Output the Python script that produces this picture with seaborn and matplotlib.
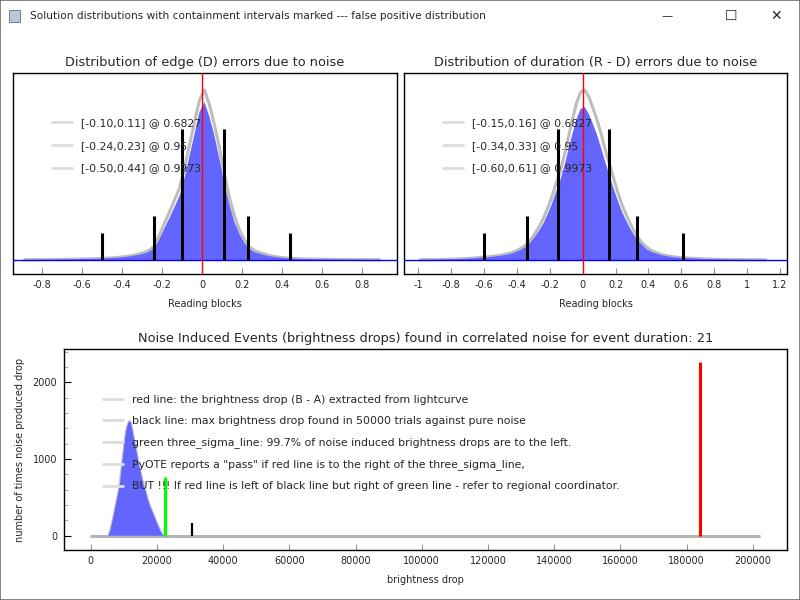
import numpy as np
import pandas as pd
import matplotlib
matplotlib.use("Agg")
import matplotlib.pyplot as plt
from matplotlib.lines import Line2D
from matplotlib.patches import Rectangle
from matplotlib.ticker import MultipleLocator, FuncFormatter
import seaborn as sns

# ---- edge (D) error histogram: bins 0.025 wide starting at -0.9
edge_start = -0.9
edge_gray = [0.3, 0.3, 0.4, 0.4, 0.5, 0.5, 0.6, 0.6, 0.7, 0.8, 0.9, 1.0,
             1.1, 1.2, 1.3, 1.5, 1.7, 2.0, 2.4, 2.8, 3.4, 4.0, 5.0, 6.0,
             7.5, 10, 14, 25, 37, 48, 60, 72, 92, 115, 138, 160,
             170, 155, 135, 112, 85, 62, 44, 30, 20, 13, 9.5, 7.5,
             6, 4.5, 3.5, 2.8, 2.2, 1.8, 1.5, 1.3, 1.1, 1.0, 0.9, 0.9,
             0.8, 0.8, 0.7, 0.6, 0.6, 0.5, 0.5, 0.4, 0.4, 0.3, 0.3, 0.3]
edge_blue = [0.2, 0.2, 0.3, 0.3, 0.4, 0.4, 0.5, 0.5, 0.6, 0.7, 0.8, 0.9,
             1.0, 1.1, 1.2, 1.3, 1.5, 1.8, 2.1, 2.5, 3.0, 3.6, 4.4, 5.3,
             6.6, 8.5, 12, 21, 32, 42, 53, 64, 82, 104, 126, 148,
             158, 143, 124, 101, 76, 55, 38, 26, 17, 11, 8, 6.3,
             5, 3.8, 3.0, 2.4, 1.9, 1.5, 1.3, 1.1, 1.0, 0.9, 0.8, 0.8,
             0.7, 0.7, 0.6, 0.5, 0.5, 0.4, 0.4, 0.3, 0.3, 0.2, 0.2, 0.2]
edge_lo = [-0.10, -0.24, -0.50]
edge_hi = [0.11, 0.23, 0.44]

# ---- duration (R - D) error histogram: bins 0.025 wide starting at -1.0
dur_start = -1.0
dur_gray = [0.3, 0.3, 0.4, 0.4, 0.5, 0.6, 0.7, 0.8, 0.9, 1.0, 1.2, 1.4, 1.7, 2.0, 2.3, 2.7,
            3.0, 3.4, 3.9, 4.5, 5.2, 6.0, 7.0, 8.5, 10.5, 13, 16, 21,
            27, 34, 42, 52, 63, 76, 88, 104, 122, 140, 157, 168,
            170, 163, 152, 140, 126, 110, 96, 82, 68, 56, 46, 37,
            29, 22, 17, 13, 10, 8, 6.5, 5.2, 4.3, 3.6, 3.0, 2.6,
            2.3, 2.0, 1.8, 1.6, 1.4, 1.2, 1.0, 0.9, 0.8, 0.7, 0.6, 0.5,
            0.5, 0.4, 0.4, 0.3, 0.3, 0.3, 0.2, 0.2, 0.2]
dur_blue = [0.2, 0.2, 0.3, 0.3, 0.4, 0.5, 0.6, 0.7, 0.8, 0.9, 1.0, 1.2, 1.5, 1.8, 2.0, 2.4,
            2.6, 3.0, 3.4, 3.9, 4.6, 5.3, 6.2, 7.5, 9.3, 11.5, 14, 18.5,
            24, 30, 37, 46, 56, 68, 79, 93, 110, 126, 141, 151,
            153, 146, 136, 125, 112, 98, 85, 72, 60, 49, 40, 32,
            25, 19, 15, 11, 8.5, 7, 5.7, 4.6, 3.8, 3.2, 2.6, 2.3,
            2.0, 1.8, 1.6, 1.4, 1.2, 1.0, 0.9, 0.8, 0.7, 0.6, 0.5, 0.4,
            0.4, 0.3, 0.3, 0.2, 0.2, 0.2, 0.2, 0.1, 0.1]
dur_lo = [-0.15, -0.34, -0.60]
dur_hi = [0.16, 0.33, 0.61]

bin_width = 0.025
confidence = ["0.6827", "0.95", "0.9973"]
interval_heights = [131, 44, 27]

# ---- noise induced brightness drops: bins 500 wide starting at 5000
drop_start = 5000
drop_width = 500
drop_counts = [10, 70, 160, 260, 370, 470, 580, 720, 920, 1100, 1290, 1410,
               1480, 1505, 1480, 1380, 1260, 1160, 1040, 920, 830, 730, 650, 580,
               500, 430, 370, 320, 270, 210, 160, 110, 60, 25, 5]
drop_span = [0, 202000]
red_drop, red_height = 184000, 2270
black_drop, black_height = 30600, 162
green_drop, green_height = 22450, 770
drop_legend = [
    "red line: the brightness drop (B - A) extracted from lightcurve",
    "black line: max brightness drop found in 50000 trials against pure noise",
    "green three_sigma_line: 99.7% of noise induced brightness drops are to the left.",
    'PyOTE reports a "pass" if red line is to the right of the three_sigma_line,',
    "BUT !!! If red line is left of black line but right of green line - refer to regional coordinator.",
]

sns.set_style("white")
plt.rcParams["font.family"] = ["DejaVu Sans"]

BLUE = "#6464ff"
GRAY = "#bdbdbd"
LEG = "#dcdcdc"
TICK_FS = 7.0
LEG_FS = 7.8
LAB_FS = 7.0
TITLE_FS = 9.3

fig = plt.figure(figsize=(8, 6), dpi=100)

# window chrome
fig.patches.append(Rectangle((0, 0), 1, 1, transform=fig.transFigure, fill=False,
                             edgecolor="#6e6e6e", linewidth=1.2))
fig.patches.append(Rectangle((9 / 800, 1 - 22 / 600), 11 / 800, 12 / 600, transform=fig.transFigure,
                             facecolor="#b8c8d8", edgecolor="#607080", linewidth=0.6))
fig.text(30 / 800, 1 - 16 / 600, "Solution distributions with containment intervals marked --- false positive distribution",
         fontsize=7.6, va="center", ha="left")
fig.text(667 / 800, 1 - 16 / 600, "\u2014", fontsize=8, va="center", ha="center")
fig.text(731 / 800, 1 - 16 / 600, "\u2610", fontsize=10, va="center", ha="center")
fig.text(776 / 800, 1 - 16 / 600, "\u2715", fontsize=10, va="center", ha="center")


def hist_frame(start, width, counts):
    n = len(counts)
    df = pd.DataFrame({"x": start + width * (np.arange(n) + 0.5),
                       "w": np.asarray(counts, dtype=float)})
    return df, (start, start + width * n), n


def interval_hist(ax, start, gray, blue, lo, hi, title, xlim, ticks, legend_x):
    gdf, rng, n = hist_frame(start, bin_width, gray)
    bdf, _, _ = hist_frame(start, bin_width, blue)
    sns.histplot(data=gdf, x="x", weights="w", bins=n, binrange=rng, element="poly", fill=False,
                 color=GRAY, linewidth=2.2, ax=ax, zorder=1)
    sns.histplot(data=bdf, x="x", weights="w", bins=n, binrange=rng, element="poly", color=BLUE,
                 alpha=1, linewidth=0, edgecolor="none", ax=ax, zorder=2)
    ax.axhline(0, color="blue", linewidth=1, zorder=3)
    for l, h, ht in zip(lo, hi, interval_heights):
        ax.vlines([l, h], 0, ht, color="black", linewidth=2.2, zorder=4)
    ax.axvline(0, color="red", linewidth=1, zorder=5)
    ax.set_xlim(*xlim)
    ax.set_ylim(-14, 187)
    ax.set_yticks([])
    ax.set_xticks(ticks)
    ax.xaxis.set_major_formatter(FuncFormatter(lambda v, p: f"{v:g}" if abs(v) > 1e-9 else "0"))
    ax.tick_params(axis="x", direction="in", length=4, color="#909090", labelsize=TICK_FS, pad=4, bottom=True)
    ax.set_xlabel("Reading blocks", fontsize=LAB_FS, labelpad=7)
    ax.set_ylabel("")
    ax.set_title(title, fontsize=TITLE_FS, pad=5)
    for s in ax.spines.values():
        s.set_visible(True)
        s.set_color("black")
        s.set_linewidth(1)
    handles = [Line2D([], [], color=LEG, linewidth=2) for _ in lo]
    labels = [f"[{l:.2f},{h:.2f}] @ {c}" for l, h, c in zip(lo, hi, confidence)]
    leg = ax.legend(handles, labels, loc="upper left", bbox_to_anchor=(legend_x / 800, 1 - 118 / 600),
                    bbox_transform=fig.transFigure, frameon=False, fontsize=LEG_FS, borderpad=0,
                    borderaxespad=0, handlelength=1.8, handletextpad=0.9, labelspacing=1.17)
    leg.set_zorder(6)


ax1 = fig.add_axes([13 / 800, 1 - 274 / 600, 384 / 800, 201 / 600])
interval_hist(ax1, edge_start, edge_gray, edge_blue, edge_lo, edge_hi,
              "Distribution of edge (D) errors due to noise", (-0.945, 0.975),
              np.round(np.arange(-0.8, 0.81, 0.2), 1), 52)

ax2 = fig.add_axes([404 / 800, 1 - 274 / 600, 383 / 800, 201 / 600])
interval_hist(ax2, dur_start, dur_gray, dur_blue, dur_lo, dur_hi,
              "Distribution of duration (R - D) errors due to noise", (-1.086, 1.242),
              np.round(np.arange(-1.0, 1.21, 0.2), 1), 443)

# bottom: false positive distribution
ax3 = fig.add_axes([64 / 800, 1 - 550 / 600, 723 / 800, 201 / 600])
ddf, d_rng, d_n = hist_frame(drop_start, drop_width, drop_counts)
ax3.plot(drop_span, [0, 0], color="#b4b4b4", linewidth=2.2, zorder=1)
sns.histplot(data=ddf, x="x", weights="w", bins=d_n, binrange=d_rng, element="poly", color=BLUE,
             alpha=1, linewidth=0, edgecolor="none", ax=ax3, zorder=2)
sns.histplot(data=ddf, x="x", weights="w", bins=d_n, binrange=d_rng, element="poly", fill=False,
             color="#c8c8c8", linewidth=0.8, ax=ax3, zorder=3)
ax3.vlines([green_drop], 0, green_height, color="#00ff00", linewidth=2.3, zorder=4)
ax3.vlines([black_drop], 0, black_height, color="black", linewidth=1.6, zorder=4)
ax3.vlines([red_drop], 0, red_height, color="red", linewidth=2.2, zorder=4)
ax3.set_xlim(-8066, 210360)
ax3.set_ylim(-186, 2434)
ax3.xaxis.set_major_locator(MultipleLocator(20000))
ax3.yaxis.set_major_locator(MultipleLocator(1000))
ax3.yaxis.set_minor_locator(MultipleLocator(200))
ax3.xaxis.set_major_formatter(FuncFormatter(lambda v, p: f"{v:.0f}"))
ax3.tick_params(axis="x", direction="in", length=4, color="#909090", labelsize=TICK_FS, pad=4, bottom=True)
ax3.tick_params(axis="y", which="major", direction="in", length=5, color="black", labelsize=TICK_FS, pad=5, left=True)
ax3.tick_params(axis="y", which="minor", direction="in", length=3, color="#a0a0a0", left=True)
ax3.set_xlabel("brightness drop", fontsize=LAB_FS, labelpad=7)
ax3.set_ylabel("number of times noise produced drop", fontsize=LAB_FS, labelpad=5)
ax3.set_title("Noise Induced Events (brightness drops) found in correlated noise for event duration: 21",
              fontsize=TITLE_FS, pad=5)
for s in ax3.spines.values():
    s.set_visible(True)
    s.set_color("black")
    s.set_linewidth(1)
handles = [Line2D([], [], color=LEG, linewidth=2) for _ in drop_legend]
leg3 = ax3.legend(handles, drop_legend, loc="upper left", bbox_to_anchor=(103 / 800, 1 - 395 / 600),
                  bbox_transform=fig.transFigure, frameon=False, fontsize=LEG_FS, borderpad=0,
                  borderaxespad=0, handlelength=1.8, handletextpad=0.9, labelspacing=1.03)
leg3.set_zorder(6)

fig.savefig("out.png", dpi=100)
